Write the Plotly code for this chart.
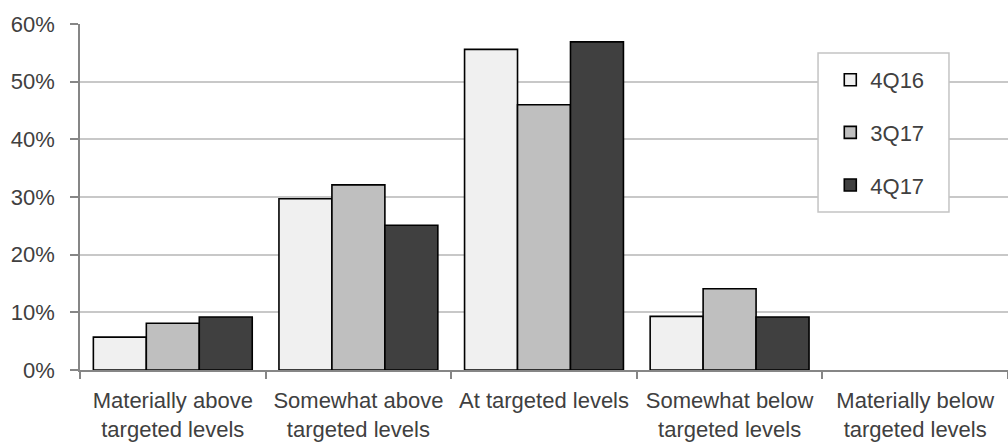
import plotly.graph_objects as go

categories = [
    "Materially above<br>targeted levels",
    "Somewhat above<br>targeted levels",
    "At targeted levels",
    "Somewhat below<br>targeted levels",
    "Materially below<br>targeted levels",
]
series_names = ["4Q16", "3Q17", "4Q17"]
v_4q16 = [0.057, 0.297, 0.556, 0.093, 0.0]
v_3q17 = [0.081, 0.321, 0.460, 0.141, 0.0]
v_4q17 = [0.092, 0.251, 0.569, 0.092, 0.0]
colors = ["#f0f0f0", "#bfbfbf", "#404040"]
y_ticks = [0, 0.1, 0.2, 0.3, 0.4, 0.5, 0.6]

FONT = "Liberation Sans, Arial, sans-serif"
TXT = "#404040"

fig = go.Figure()
for name, vals, col in zip(series_names, [v_4q16, v_3q17, v_4q17], colors):
    fig.add_trace(go.Bar(
        x=categories, y=[v if v > 0 else None for v in vals], name=name, legendgroup=name,
        marker=dict(color=col, line=dict(color="#000000", width=1.6)),
    ))

fig.update_layout(
    width=1008, height=447,
    margin=dict(l=80, r=0, t=24, b=77),
    paper_bgcolor="white", plot_bgcolor="white",
    barmode="group", bargap=0.144, bargroupgap=0,
    font=dict(family=FONT, size=22, color=TXT),
    showlegend=True,
    legend=dict(
        x=0.8085, y=0.899, xanchor="left", yanchor="top",
        bgcolor="rgba(0,0,0,0)", borderwidth=0,
        tracegroupgap=21,
        font=dict(family=FONT, size=22, color=TXT),
    ),
    shapes=[dict(
        type="rect", xref="paper", yref="paper",
        x0=0.7953, x1=0.9364, y0=0.4566, y1=0.9162,
        line=dict(color="#c4c4c4", width=1.5), fillcolor="white", layer="above",
    )],
)
fig.update_yaxes(
    range=[0, 0.6], tickvals=y_ticks, tickformat=".0%",
    showgrid=True, gridcolor="#c8c8c8", gridwidth=1.5,
    showline=True, linecolor="#868686", linewidth=1.5,
    ticks="outside", ticklen=8, tickcolor="#868686", tickwidth=1.5,
    ticklabelstandoff=11, zeroline=False, automargin=False,
    tickfont=dict(family=FONT, size=22, color=TXT),
)
fig.update_xaxes(
    showline=True, linecolor="#868686", linewidth=1.5,
    ticks="outside", tickson="boundaries", ticklen=7, tickcolor="#868686", tickwidth=1.5,
    showgrid=False, tickangle=0, automargin=False, ticklabelstandoff=10,
    tickfont=dict(family=FONT, size=22, color=TXT),
)

fig.write_html("out.html", config={"displayModeBar": False},
               post_script="document.body.style.margin='0';")
